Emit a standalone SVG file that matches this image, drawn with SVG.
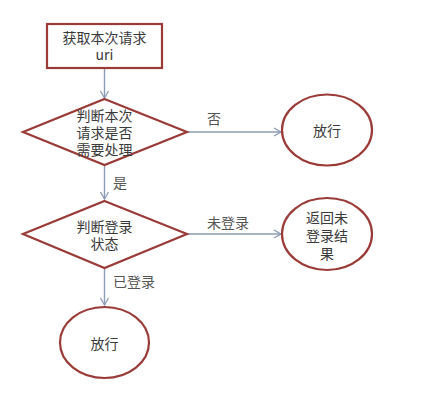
<svg xmlns="http://www.w3.org/2000/svg" width="444" height="405" viewBox="0 0 444 405">
<defs>
<marker id="arr" markerWidth="10" markerHeight="10" refX="8" refY="5" orient="auto" markerUnits="userSpaceOnUse">
<path d="M1,1 L8,5 L1,9" fill="none" stroke="#8c9bb5" stroke-width="1.3"/>
</marker>
</defs>
<style>
.shape{fill:#ffffff;stroke:#9a3b38;stroke-width:2.2}
.conn{fill:none;stroke:#8c9bb5;stroke-width:1.4;marker-end:url(#arr)}
text{font-family:"Noto Sans CJK SC","Liberation Sans",sans-serif;font-size:14px;fill:#3a3a3a;text-anchor:middle;dominant-baseline:central}
.lbl{text-anchor:start;fill:#555}
</style>
<rect width="444" height="405" fill="#ffffff"/>
<g id="connectors">
<line class="conn" x1="104.5" y1="68" x2="104.5" y2="98"/>
<line class="conn" x1="187" y1="132" x2="281" y2="132"/>
<line class="conn" x1="104.5" y1="165" x2="104.5" y2="199"/>
<line class="conn" x1="187" y1="234" x2="281" y2="234"/>
<line class="conn" x1="104.5" y1="268" x2="104.5" y2="305"/>
<text class="lbl" x="207" y="118">否</text>
<text class="lbl" x="113" y="182">是</text>
<text class="lbl" x="207" y="222">未登录</text>
<text class="lbl" x="113" y="281">已登录</text>
</g>
<g id="start">
<rect class="shape" x="47" y="24" width="115" height="44"/>
<text x="104.5" y="37">获取本次请求</text>
<text x="104.5" y="54">uri</text>
</g>
<g id="decision1">
<polygon class="shape" points="104.5,99 187,132 104.5,165 23,132"/>
<text x="104.5" y="115">判断本次</text>
<text x="104.5" y="132">请求是否</text>
<text x="104.5" y="149">需要处理</text>
</g>
<g id="pass1">
<ellipse class="shape" cx="327" cy="130" rx="45" ry="35.5"/>
<text x="327" y="130">放行</text>
</g>
<g id="decision2">
<polygon class="shape" points="104.5,201 187,234 104.5,268 23,234"/>
<text x="104.5" y="226">判断登录</text>
<text x="104.5" y="243">状态</text>
</g>
<g id="notlogged">
<ellipse class="shape" cx="327" cy="234" rx="45" ry="36"/>
<text x="327" y="217">返回未</text>
<text x="327" y="235">登录结</text>
<text x="327" y="253">果</text>
</g>
<g id="pass2">
<ellipse class="shape" cx="104.5" cy="342.5" rx="44.5" ry="35.5"/>
<text x="104.5" y="343">放行</text>
</g>
</svg>
